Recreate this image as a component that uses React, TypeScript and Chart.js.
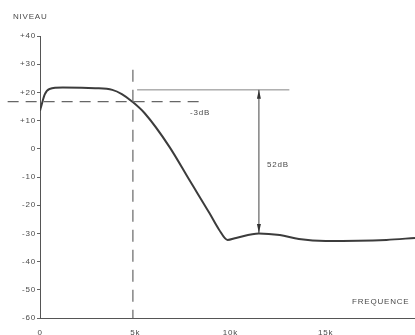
import React, { useEffect, useRef } from "react";
import { Chart, registerables } from "chart.js";

Chart.register(...registerables);

// Frequency response curve (kHz, dB)
const freqK = [0, 0.1, 0.25, 0.5, 1.2, 2.9, 3.8, 4.3, 4.85, 5.5, 6.8, 7.85, 8.9, 9.4, 9.85, 10.3, 11.5, 12.6, 13.6, 15.0, 18.2, 19.7];
const levelDb = [13.5, 16, 19.3, 21.2, 21.7, 21.5, 20.9, 19.4, 16.7, 12.6, 0.7, -11.1, -22.8, -28.6, -32.3, -31.6, -30.0, -30.6, -32.0, -32.7, -32.3, -31.6];

const yTicks = [40, 30, 20, 10, 0, -10, -20, -30, -40, -50, -60];
const xTicks = [0, 5, 10, 15];
const xTickLabels = ["0", "5k", "10k", "15k"];

// Annotations (data coordinates)
const cutoffDb = 16.7; // -3 dB dashed level
const cutoffSpanK = [-1.7, 8.4];
const cutoffK = 4.88; // vertical dashed line
const cutoffVSpanDb = [28, -60];
const refLevelDb = 20.9; // solid reference line
const refSpanK = [5.1, 13.1];
const arrowK = 11.5;
const arrowSpanDb = [20.9, -29.9];
const labels3dB = "-3dB";
const labels52dB = "52dB";
const yTitle = "NIVEAU";
const xTitle = "FREQUENCE";

const FONT = '"Liberation Sans", Arial, sans-serif';
const INK = "#4a4a4a";

const spacing = {
  id: "spacing",
  beforeDraw(chart: any) {
    (chart.ctx as any).letterSpacing = "0.8px";
  },
};

const annotations = {
  id: "annots",
  afterDatasetsDraw(chart: any) {
    const { ctx } = chart;
    const xs = chart.scales.x;
    const ys = chart.scales.y;
    const px = (v: number) => xs.getPixelForValue(v);
    const py = (v: number) => ys.getPixelForValue(v);
    ctx.save();
    ctx.strokeStyle = "#666";
    // horizontal dashed -3dB
    ctx.lineWidth = 1.2;
    ctx.setLineDash([11, 7]);
    ctx.beginPath();
    ctx.moveTo(px(cutoffSpanK[0]), py(cutoffDb));
    ctx.lineTo(px(cutoffSpanK[1]), py(cutoffDb));
    ctx.stroke();
    // vertical dashed
    ctx.setLineDash([12, 8]);
    ctx.beginPath();
    ctx.moveTo(px(cutoffK), py(cutoffVSpanDb[0]));
    ctx.lineTo(px(cutoffK), py(cutoffVSpanDb[1]));
    ctx.stroke();
    // solid reference line
    ctx.setLineDash([]);
    ctx.lineWidth = 0.8;
    ctx.beginPath();
    ctx.moveTo(px(refSpanK[0]), py(refLevelDb));
    ctx.lineTo(px(refSpanK[1]), py(refLevelDb));
    ctx.stroke();
    // double arrow
    const ax = px(arrowK);
    const a1 = py(arrowSpanDb[0]);
    const a2 = py(arrowSpanDb[1]);
    ctx.strokeStyle = "#444";
    ctx.lineWidth = 1;
    ctx.beginPath();
    ctx.moveTo(ax, a1);
    ctx.lineTo(ax, a2);
    ctx.stroke();
    ctx.fillStyle = "#333";
    ctx.beginPath();
    ctx.moveTo(ax, a1);
    ctx.lineTo(ax - 2, a1 + 9);
    ctx.lineTo(ax + 2, a1 + 9);
    ctx.closePath();
    ctx.fill();
    ctx.beginPath();
    ctx.moveTo(ax, a2);
    ctx.lineTo(ax - 2, a2 - 9);
    ctx.lineTo(ax + 2, a2 - 9);
    ctx.closePath();
    ctx.fill();
    // texts
    ctx.fillStyle = INK;
    ctx.font = "8px " + FONT;
    ctx.textBaseline = "middle";
    ctx.textAlign = "left";
    ctx.fillText(labels3dB, 190, 113);
    ctx.fillText(labels52dB, 267, 165);
    ctx.fillText(xTitle, 352, 302);
    ctx.fillText(yTitle, 13, 17);
    ctx.restore();
  },
};

export default function App() {
  const ref = useRef<HTMLCanvasElement>(null);
  useEffect(() => {
    document.body.style.margin = "0";
    const chart = new Chart(ref.current!, {
      type: "line",
      data: {
        datasets: [
          {
            data: freqK.map((x, i) => ({ x, y: levelDb[i] })),
            borderColor: "#3c3c3c",
            borderWidth: 2,
            pointRadius: 0,
            cubicInterpolationMode: "monotone",
            fill: false,
          },
        ],
      },
      options: {
        animation: false,
        responsive: false,
        layout: { padding: { top: 36, right: 0, left: 0, bottom: 0 } },
        plugins: { legend: { display: false }, tooltip: { enabled: false } },
        scales: {
          x: {
            type: "linear",
            min: 0,
            max: 19.7,
            afterBuildTicks: (s: any) => {
              s.ticks = xTicks.map((v) => ({ value: v }));
            },
            afterFit: (s: any) => {
              s.height = 17;
            },
            ticks: {
              autoSkip: false,
              maxRotation: 0,
              padding: 2,
              color: INK,
              font: { family: FONT, size: 8 },
              callback: (v: any) => xTickLabels[xTicks.indexOf(Number(v))] ?? "",
            },
            grid: { display: false },
            border: { display: true, color: "#555", width: 1 },
          },
          y: {
            min: -60,
            max: 40,
            afterBuildTicks: (s: any) => {
              s.ticks = yTicks.map((v) => ({ value: v }));
            },
            afterFit: (s: any) => {
              s.width = 40;
            },
            ticks: {
              padding: 1,
              color: INK,
              font: { family: FONT, size: 8 },
              callback: (v: any) => (Number(v) > 0 ? "+" + v : String(v)),
            },
            grid: { drawOnChartArea: false, drawTicks: true, tickLength: 3, color: "#666" },
            border: { display: true, color: "#555", width: 1 },
          },
        },
      },
      plugins: [spacing, annotations],
    } as any);
    return () => chart.destroy();
  }, []);
  return (
    <div style={{ position: "absolute", left: 0, top: 0, width: 415, height: 335, background: "#fff" }}>
      <canvas ref={ref} width={415} height={335} />
    </div>
  );
}
